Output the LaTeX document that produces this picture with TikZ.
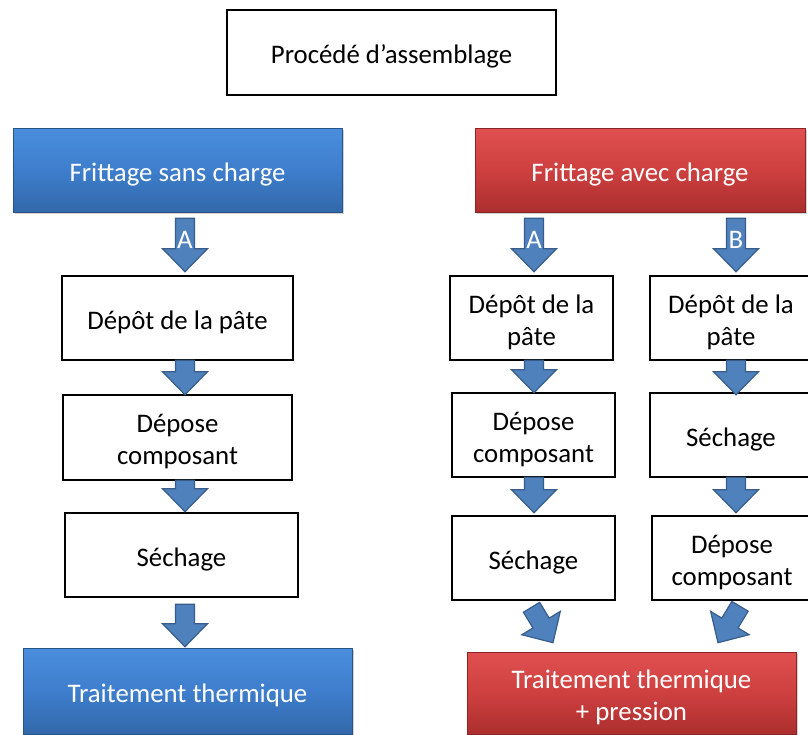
\documentclass[tikz,border=0pt]{standalone}
\usepackage{fontspec}
\setmainfont{Carlito}
\usetikzlibrary{calc,shadows}
\definecolor{bluetop}{RGB}{74,142,222}
\definecolor{bluemid}{RGB}{62,126,204}
\definecolor{bluebot}{RGB}{50,104,170}
\definecolor{redtop}{RGB}{224,80,80}
\definecolor{redmid}{RGB}{206,64,64}
\definecolor{redbot}{RGB}{172,46,46}
\definecolor{arrfill}{RGB}{79,129,189}
\definecolor{arrdraw}{RGB}{56,93,138}
\tikzset{
  every node/.style={font=\fontsize{13.4pt}{16pt}\selectfont, align=center, inner sep=0pt},
  every label/.style={yshift=-2pt},
  plainbox/.style={draw=black, line width=1.3pt, fill=white, rectangle},
  bluebox/.style={rectangle, top color=bluetop, bottom color=bluebot, middle color=bluemid,
    draw=bluebot!80!black, line width=0.3pt,
    drop shadow={opacity=0.35, shadow xshift=0.8pt, shadow yshift=-1.2pt}},
  redbox/.style={rectangle, top color=redtop, bottom color=redbot, middle color=redmid,
    draw=redbot!80!black, line width=0.3pt,
    drop shadow={opacity=0.35, shadow xshift=0.8pt, shadow yshift=-1.2pt}},
  barrowstyle/.style={fill=arrfill, draw=arrdraw, line width=0.6pt, line join=miter},
  arrlabel/.style={text=white, font=\fontsize{13.4pt}{15pt}\selectfont}
}
% \bx[style]{name}{center}{width}{height}{text colour}{text}
\newcommand\bx[7][plainbox]{%
  \node[#1, minimum width=#4, minimum height=#5,
        label={[name=#2t, text=#6]center:#7}] (#2) at (#3) {};
}
\newcommand\barr[3][]{%
  \coordinate (hh) at ($(#3)!11.5pt!(#2)$);
  \draw[barrowstyle] ($(#2)!4.75pt!90:(#3)$) -- ($(hh)!4.75pt!90:(#3)$) -- ($(hh)!11.25pt!90:(#3)$) -- (#3) -- ($(hh)!11.25pt!-90:(#3)$) -- ($(hh)!4.75pt!-90:(#3)$) -- ($(#2)!4.75pt!-90:(#3)$) -- cycle;
  \node[arrlabel] at ($(#2)!0.72!(hh)$) {#1};
}
\begin{document}
\begin{tikzpicture}[x=0.5pt,y=-0.5pt]
\useasboundingbox (0,0) rectangle (808,734);
\fill[white] (0,0) rectangle (808,734);
% title
\bx{title}{391.5,52.5}{164.5pt}{42.5pt}{black}{Procédé d’assemblage}
% top colored boxes
\bx[bluebox]{fs}{177.5,170}{164.5pt}{42pt}{white}{Frittage sans charge}
\bx[redbox]{fa}{640,170}{165pt}{42pt}{white}{Frittage avec charge}
% left column
\bx{L1}{177.5,318}{115.5pt}{42pt}{black}{Dépôt de la pâte}
\bx{L2}{177.5,437.5}{114.5pt}{42.5pt}{black}{Dépose\\composant}
\bx{L3}{181.5,555}{116.5pt}{42pt}{black}{Séchage}
\bx[bluebox]{L4}{187.5,691}{164.5pt}{43pt}{white}{Traitement thermique}
% right column A
\bx{A1}{531.5,318}{81.5pt}{42pt}{black}{Dépôt de la\\pâte}
\bx{A2}{533.5,435}{81.5pt}{42pt}{black}{Dépose\\composant}
\bx{A3}{533.5,558}{81.5pt}{42pt}{black}{Séchage}
% right column B
\bx{B1}{731,318}{81pt}{42pt}{black}{Dépôt de la\\pâte}
\bx{B2}{731,435}{81pt}{42pt}{black}{Séchage}
\bx{B3}{732,558}{80pt}{42pt}{black}{Dépose\\composant}
% bottom red
\bx[redbox]{rb}{631.5,693}{164.5pt}{41pt}{white}{Traitement thermique\\+ pression}
% arrow columns
\coordinate (xl) at (185,0);
\coordinate (xa) at (534,0);
\coordinate (xb) at (736,0);
% left arrows
\barr[A]{$(xl |- fs.south)+(0,6)$}{$(xl |- L1.north)+(0,-3)$}
\barr{$(xl |- L1.south)+(0,-1)$}{$(xl |- L2.north)+(0,1)$}
\barr{$(xl |- L2.south)+(0,-1)$}{$(xl |- L3.north)+(0,0)$}
\barr{$(xl |- L3.south)+(0,6)$}{$(xl |- L4.north)+(0,-1)$}
% right A arrows
\barr[A]{$(xa |- fa.south)+(0,6)$}{$(xa |- A1.north)+(0,-3)$}
\barr{$(xa |- A1.south)+(0,-1)$}{$(xa |- A2.north)+(0,1)$}
\barr{$(xa |- A2.south)+(0,-1)$}{$(xa |- A3.north)+(0,-2)$}
% right B arrows
\barr[B]{$(xb |- fa.south)+(0,6)$}{$(xb |- B1.north)+(0,-3)$}
\barr{$(xb |- B1.south)+(0,-1)$}{$(xb |- B2.north)+(0,3)$}
\barr{$(xb |- B2.south)+(0,-1)$}{$(xb |- B3.north)+(0,-2)$}
% diagonal arrows
\barr{$(A3.south)+(-2,6)$}{$(rb.north)+(-78.5,-9)$}
\barr{$(B3.south)+(8,5)$}{$(rb.north)+(86.5,-9)$}
\end{tikzpicture}
\end{document}
